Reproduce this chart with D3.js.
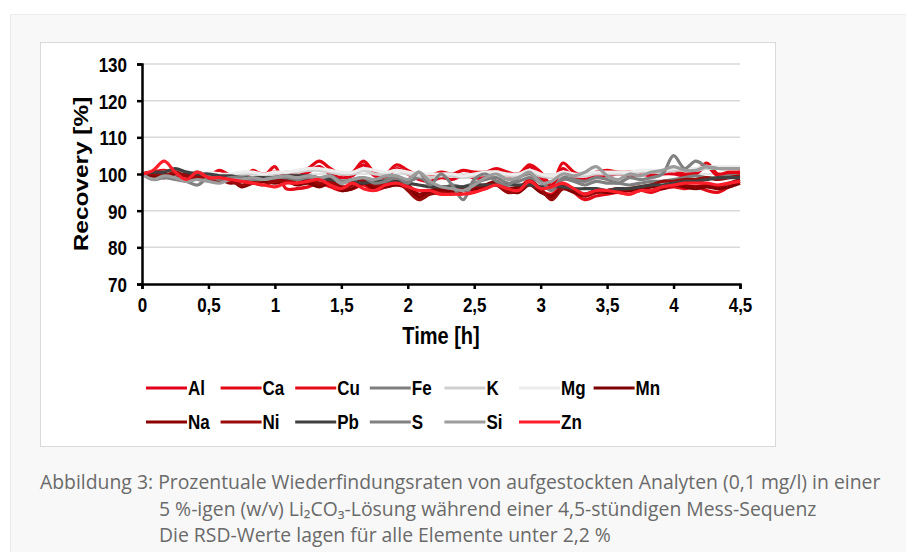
<!DOCTYPE html>
<html>
<head>
<meta charset="utf-8">
<script src="https://cdn.jsdelivr.net/npm/d3@7"></script>
<style>
body { margin: 0; background: #fff; }
</style>
</head>
<body>
<script>
// measurement times in minutes (every 5 min over 4.5 h)
var minutes = [0,5,10,15,20,25,30,35,40,45,50,55,60,65,70,75,80,85,90,95,100,105,110,115,120,125,130,135,140,145,150,155,160,165,170,175,180,185,190,195,200,205,210,215,220,225,230,235,240,245,250,255,260,265,270];

var Al = [100,100,99,99.5,98.5,99,98.5,98.5,99,98, 98.5,98,98.5,99,99.5,100.5,102,100,99,99.5, 102.5,99.5,99,101.5,100,98.5,98,99,98.5,99.5, 99,99,100.5,99.5,99,102,99,96.5,101.5,99, 98.5,99.5,99.5,100,99.5,100,99.5,100,100,99.5, 100,102,99.5,100,100.5];
var Ca = [100,100.5,101,100,99.5,100,99.5,101,99.5,99, 100.5,100,100.5,99.5,100.5,101.5,103.5,101.5,100,100.5, 103.5,100.5,100,102.5,101,99.5,99.5,100.5,100,101, 100.5,100.5,101.5,100.5,100,102.5,100.5,97,103,100.5, 99.5,100.5,101,100.5,100.5,100.5,100,100.5,101,100, 100.5,103,100,100.5,100.5];
var Cu = [100,99.5,100,99,98.5,99,98.5,99,98.5,98, 101,99.5,102,96,96,96.5,97.5,96.5,95.5,96, 97,95.5,96.5,97,96,94,95,94.5,95,95.5, 95.5,96.5,97,95.5,96,98.5,95.5,94.5,97,95, 93,94,94.5,95,94.5,95.5,95,96,96.5,96, 96.5,95.5,95,96.5,98];
var Fe = [100,99.5,100,101,100,100.5,99.5,99,99.5,99.5, 99,99,99.5,99,99.5,99,98.5,99,97.5,98.5, 98,97.5,98.5,99,98,99,97.5,96,97,96.5, 97.5,98.5,99,97.5,98,99,97.5,95.5,98.5,98, 97,98,97.5,97.5,97,97.5,98,98,98.5,99, 99.5,99,99,99.5,99.5];
var K  = [100,100,100.5,100,100.5,100,100,99.5,99.5,100, 100,99.5,100,100.5,100.5,101,101,100.5,100,100, 101,100,100,101,100,99.5,99,99.5,99.5,99, 99.5,100,100.5,99.5,99.5,100.5,99.5,99,100,99.5, 99.5,100,100,100,100,100.5,100.5,100.5,101,101, 101,101.5,101.5,101.5,101.5];
var Mg = [100,100.5,100,100,100.5,100,100.5,100,100,100.5, 100.5,100,100.5,100.5,101,101.5,101.5,101,100.5,100.5, 101.5,101,100.5,101,100.5,100,100,100,100,99.5, 100,100.5,100.5,100,100,101,100,99.5,100.5,100, 100,100.5,100.5,100.5,100.5,101,101,101,101.5,101.5, 101.5,102,102,102,102];
var Mn = [100,99.5,99,100,99.5,98.5,98.5,98,98.5,96.5, 97.5,98,97.5,98,97,97.5,96.5,97.5,95.5,96, 97.5,96,96.5,97,96.5,93.5,95,95.5,95,95.5, 96,96,97.5,95.5,95,97,95,94,96,95, 94,95,95,95,95.5,95.5,96.5,96,97,96.5, 96,96.5,96,96.5,97.5];
var Na = [100,100.5,100,99,100,99.5,98.5,98.5,97.5,98, 97.5,98.5,98,98.5,97.5,98.5,97,98,96.5,97, 98,96.5,97,98,97,94.5,95.5,96,95.5,96, 96.5,97,98,96,96.5,97.5,95.5,93.5,96.5,95.5, 94.5,95.5,95.5,96,95.5,96,97,96.5,97.5,97, 96.5,97,96.5,97.5,98.5];
var Ni = [100,100,99.5,100.5,99.5,99,99,98.5,98,97, 97.5,97,98,98,98.5,99,97.5,98,96,97, 98.5,97,97.5,98,95.5,93,94.5,95,94.5,95.5, 96.5,97,97,95,95.5,98,96,93,96,96, 94,95,95.5,95.5,96,96.5,97,98,98,98.5, 98.5,99,98.5,99,99.5];
var Pb = [100,100.5,100.5,101.5,100.5,100,100,99.5,99.5,99, 99,99,99,99.5,99.5,99.5,99,98.5,98,98, 97.5,98,98,98,97.5,97,96.5,96.5,96.5,96.5, 97,97,97,97,97,97,96.5,96.5,96.5,96, 96,96,95.5,96,96,96.5,97,97,97.5,98, 98,98.5,99,99,99];
var S  = [100,98.5,99,98.5,98,97,99,98.5,99,99, 98.5,98.5,99,99,98.5,99,98.5,99.5,98,98.5, 99,97.5,98,99,97.5,100.5,97,100,97,93, 98.5,100,98,97,99,100,98,96,99,98.5, 98,99,98.5,97.5,99,98.5,99,100,105,101.5, 103.5,102,101.5,101.5,101.5];
var Si = [100,98.5,99.5,99,98,98.5,98,97.5,98.5,98.5, 99,98.5,99,99.5,99,99.5,99,99.5,97.5,98.5, 99,98.5,99.5,99.5,98.5,100.5,98,96.5,96,95.5, 97,99,100,98.5,99,100.5,97.5,98,100,99.5, 100.5,102,99.5,98.5,100,99.5,100.5,101,102,101, 101,102,101.5,101.5,101.5];
var Zn = [100,101,103.5,100.5,98.5,100.5,99,99,98.5,98, 97.5,97,96.5,97.5,97.5,98,98.5,97,96,97.5, 96,95.5,97,97.5,96.5,95.5,95.5,94.5,94.5,94.5, 95,96,97,96,95.5,98,96,96.5,97.5,96, 94.5,95.5,95.5,95,94.5,95.5,95.5,96.5,97,97.5, 97.5,97.5,97,97.5,98];

var elements = ["Al","Ca","Cu","Fe","K","Mg","Mn","Na","Ni","Pb","S","Si","Zn"];
var values = [Al, Ca, Cu, Fe, K, Mg, Mn, Na, Ni, Pb, S, Si, Zn];
var colors = ["#e2001a","#e30613","#e40c18","#7f7f7f","#cfcfcf","#ececec","#7f0000","#8b0000","#990a0a","#404040","#808080","#9c9c9c","#ff1f2b"];

var yTicks = [70, 80, 90, 100, 110, 120, 130];
var xTicks = [0, 0.5, 1, 1.5, 2, 2.5, 3, 3.5, 4, 4.5];
var xTickLabels = ["0","0,5","1","1,5","2","2,5","3","3,5","4","4,5"];

var captionLines = [
  "Abbildung 3: Prozentuale Wiederfindungsraten von aufgestockten Analyten (0,1 mg/l) in einer",
  "5 %-igen (w/v) Li\u2082CO\u2083-Lösung während einer 4,5-stündigen Mess-Sequenz",
  "Die RSD-Werte lagen für alle Elemente unter 2,2 %"
];

var W = 906, H = 552;
var svg = d3.select("body").append("svg")
    .attr("width", W)
    .attr("height", H)
    .style("display", "block");

// grey page panel and white chart frame
svg.append("rect")
    .attr("x", 10.5).attr("y", 14.5)
    .attr("width", W).attr("height", H)
    .attr("fill", "#f8f8f8")
    .attr("stroke", "#ebebeb");

svg.append("rect")
    .attr("x", 40.5).attr("y", 42.5)
    .attr("width", 735).attr("height", 404)
    .attr("fill", "#fff")
    .attr("stroke", "#d9d9d9");

var margin = {left: 142, top: 64, right: 740, bottom: 284};

var x = d3.scaleLinear().domain([0, 4.5]).range([margin.left, margin.right]);
var y = d3.scaleLinear().domain([70, 130]).range([margin.bottom, margin.top]);

var font = "'Liberation Sans', Arial, sans-serif";
var stretch = 1.22; // chart text is taller than wide in the original

// gridlines
svg.append("g")
  .selectAll("line")
  .data(yTicks.slice(1))
  .enter().append("line")
    .attr("x1", x(0)).attr("x2", x(4.5))
    .attr("y1", function(d) { return y(d); })
    .attr("y2", function(d) { return y(d); })
    .attr("stroke", "#d9d9d9")
    .attr("stroke-width", 1.5);

var line = d3.line()
    .curve(d3.curveCatmullRom.alpha(0.5))
    .x(function(d) { return x(d.t); })
    .y(function(d) { return y(d.v); });

var series = elements.map(function(id, i) {
  return {
    id: id,
    color: colors[i],
    values: minutes.map(function(m, j) { return {t: m / 60, v: values[i][j]}; })
  };
});

svg.append("g")
  .selectAll("path")
  .data(series)
  .enter().append("path")
    .attr("fill", "none")
    .attr("stroke", function(d) { return d.color; })
    .attr("stroke-width", 3.2)
    .attr("stroke-linejoin", "round")
    .attr("d", function(d) { return line(d.values); });

// axes
var yAxis = svg.append("g")
    .attr("transform", "translate(" + x(0) + ",0)")
    .call(d3.axisLeft(y).tickValues(yTicks).tickSize(5));

var xAxis = svg.append("g")
    .attr("transform", "translate(0," + y(70) + ")")
    .call(d3.axisBottom(x).tickValues(xTicks).tickSize(5)
      .tickFormat(function(d, i) { return xTickLabels[i]; }));

[yAxis, xAxis].forEach(function(a) {
  a.select(".domain").attr("stroke", "#000").attr("stroke-width", 2.5);
  a.selectAll(".tick line").attr("stroke", "#000").attr("stroke-width", 2.5);
  a.selectAll(".tick text")
      .attr("fill", "#000")
      .attr("x", 0).attr("y", 0).attr("dy", "0.36em")
      .style("font", "bold 17px " + font);
});
yAxis.selectAll(".tick text")
    .attr("transform", "translate(-15,0) scale(1," + stretch + ")");
xAxis.selectAll(".tick text")
    .attr("transform", "translate(0,21) scale(1," + stretch + ")");

svg.append("text")
    .attr("transform", "translate(81," + ((y(70) + y(130)) / 2) + ") rotate(-90) scale(" + stretch + ",1)")
    .attr("text-anchor", "middle")
    .attr("dy", "0.36em")
    .style("font", "bold 20px " + font)
    .text("Recovery [%]");

svg.append("text")
    .attr("transform", "translate(" + ((x(0) + x(4.5)) / 2) + ",335) scale(1," + stretch + ")")
    .attr("text-anchor", "middle")
    .attr("dy", "0.36em")
    .style("font", "bold 20px " + font)
    .text("Time [h]");

// legend, two rows of seven
var legend = svg.append("g")
  .selectAll("g")
  .data(series)
  .enter().append("g")
    .attr("transform", function(d, i) {
      return "translate(" + (146 + (i % 7) * 74.6) + "," + (388 + Math.floor(i / 7) * 34) + ")";
    });

legend.append("line")
    .attr("x1", 0).attr("x2", 41)
    .attr("stroke", function(d) { return d.color; })
    .attr("stroke-width", 3);

legend.append("text")
    .attr("transform", "translate(42,0) scale(1," + stretch + ")")
    .attr("dy", "0.36em")
    .style("font", "bold 17px " + font)
    .text(function(d) { return d.id; });

// caption below the chart frame
var capPos = [[40, 489], [159, 516], [159, 542]];
var cap = svg.append("g")
    .attr("fill", "#6a6a6a")
    .style("font", "17px 'Open Sans', 'DejaVu Sans', sans-serif")
  .selectAll("text")
  .data(captionLines)
  .enter().append("text")
    .text(function(d) { return d; });

var sx = 841 / cap.node().getComputedTextLength();
cap.attr("transform", function(d, i) {
  return "translate(" + capPos[i][0] + "," + capPos[i][1] + ") scale(" + sx + ",1.12)";
});
</script>
</body>
</html>
